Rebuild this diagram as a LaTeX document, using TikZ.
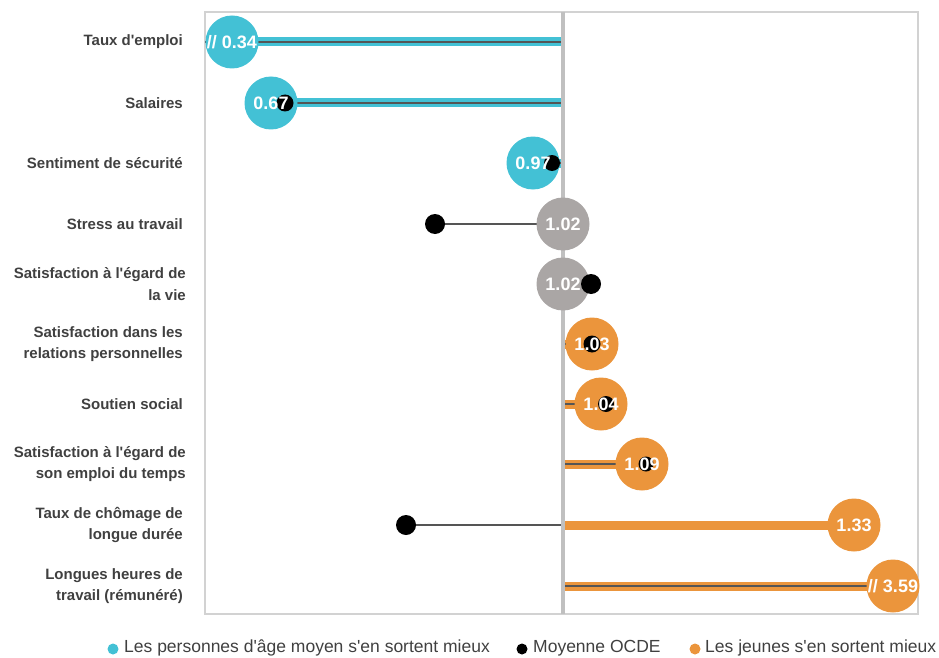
\documentclass[tikz,border=0pt]{standalone}
\usepackage{fontspec}
\newfontfamily\arialfont{Liberation Sans}
\definecolor{ciano}{RGB}{67,193,213}
\definecolor{arancio}{RGB}{235,149,60}
\definecolor{grigiob}{RGB}{170,166,165}
\definecolor{scuro}{RGB}{85,85,85}
\definecolor{asse}{RGB}{192,192,192}
\definecolor{cornice}{RGB}{210,210,210}
\definecolor{testo}{RGB}{64,64,64}
\begin{document}
\begin{tikzpicture}[x=1pt,y=-1pt,
    bolla/.style={circle,fill=#1,minimum size=53pt,inner sep=0pt},
    punto/.style={circle,fill=black,minimum size=#1,inner sep=0pt},
    valore/.style={text=white,font=\arialfont\fontsize{18}{18}\selectfont\bfseries,inner sep=0pt},
    barra/.style={#1,line width=9pt},
    linea/.style={scuro,line width=1.8pt},
    etichetta/.style={anchor=east,align=right,text=testo,inner sep=0pt,
        font=\arialfont\fontsize{15}{21.5}\selectfont\bfseries},
    legenda/.style={anchor=west,text=testo,inner sep=0pt,
        font=\arialfont\fontsize{17.5}{20}\selectfont}]
        \useasboundingbox (0,0) rectangle (939,658);
        %cornice
        \draw[cornice,line width=2pt] (205,12) rectangle (918,614);
        %punti sull'asse, bolle e medie OCDE
        \coordinate (a1) at (563,42);   \coordinate (b1) at (232,42);  \coordinate (f1) at (205,42);
        \coordinate (a2) at (563,103);  \coordinate (b2) at (271,103); \coordinate (m2) at (285,103);
        \coordinate (a3) at (563,163);  \coordinate (b3) at (533,163); \coordinate (m3) at (552,163);
        \coordinate (a4) at (563,224);  \coordinate (b4) at (563,224); \coordinate (m4) at (435,224);
        \coordinate (a5) at (563,284);  \coordinate (b5) at (563,284); \coordinate (m5) at (591,284);
        \coordinate (a6) at (563,344);  \coordinate (b6) at (592,344); \coordinate (m6) at (592,344);
        \coordinate (a7) at (563,404);  \coordinate (b7) at (601,404); \coordinate (m7) at (606,404);
        \coordinate (a8) at (563,464);  \coordinate (b8) at (642,464); \coordinate (m8) at (646,464);
        \coordinate (a9) at (563,525);  \coordinate (b9) at (854,525); \coordinate (m9) at (406,525);
        \coordinate (a10) at (563,586); \coordinate (b10) at (893,586);
        %barre colorate
        \draw[barra=ciano] (b1) -- (a1);
        \draw[barra=ciano] (b2) -- (a2);
        \draw[barra=ciano] (b3) -- (a3);
        \draw[barra=arancio] (a6) -- (b6);
        \draw[barra=arancio] (a7) -- (b7);
        \draw[barra=arancio] (a8) -- (b8);
        \draw[barra=arancio] (a9) -- (b9);
        \draw[barra=arancio] (a10) -- (b10);
        %linee verso la media
        \draw[linea] (f1) -- (a1);
        \draw[linea] (m2) -- (a2);
        \draw[linea] (m3) -- (a3);
        \draw[linea] (m4) -- (a4);
        \draw[linea] (a6) -- (m6);
        \draw[linea] (a7) -- (m7);
        \draw[linea] (a8) -- (m8);
        \draw[linea] (m9) -- (a9);
        \draw[linea] (a10) -- (b10);
        %asse centrale
        \draw[asse,line width=4pt] (563,12) -- (563,614);
        %bolle
        \node[bolla=ciano] (v1) at (b1) {};
        \node[bolla=ciano] (v2) at (b2) {};
        \node[bolla=ciano] (v3) at (b3) {};
        \node[bolla=grigiob] (v4) at (b4) {};
        \node[bolla=grigiob] (v5) at (b5) {};
        \node[bolla=arancio] (v6) at (b6) {};
        \node[bolla=arancio] (v7) at (b7) {};
        \node[bolla=arancio] (v8) at (b8) {};
        \node[bolla=arancio] (v9) at (b9) {};
        \node[bolla=arancio] (v10) at (b10) {};
        %medie OCDE
        \node[punto=17pt] (p2) at (m2) {};
        \node[punto=16pt] (p3) at (m3) {};
        \node[punto=20pt] (p4) at (m4) {};
        \node[punto=20pt] (p5) at (m5) {};
        \node[punto=17pt] (p6) at (m6) {};
        \node[punto=16pt] (p7) at (m7) {};
        \node[punto=15pt] (p8) at (m8) {};
        \node[punto=20pt] (p9) at (m9) {};
        %valori
        \node[valore] (t1) at (b1) {// 0.34};
        \node[valore] (t2) at (b2) {0.67};
        \node[valore] (t3) at (b3) {0.97};
        \node[valore] (t4) at (b4) {1.02};
        \node[valore] (t5) at (b5) {1.02};
        \node[valore] (t6) at (b6) {1.03};
        \node[valore] (t7) at (b7) {1.04};
        \node[valore] (t8) at (b8) {1.09};
        \node[valore] (t9) at (b9) {1.33};
        \node[valore] (t10) at (b10) {// 3.59};
        %etichette
        \node[etichetta] (e1) at (183,42) {Taux d'emploi};
        \node[etichetta] (e2) at (183,103) {Salaires};
        \node[etichetta] (e3) at (183,163) {Sentiment de sécurité};
        \node[etichetta] (e4) at (183,224) {Stress au travail};
        \node[etichetta] (e5) at (186,284) {Satisfaction à l'égard de\\la vie};
        \node[etichetta] (e6) at (183,344) {Satisfaction dans les\\relations personnelles};
        \node[etichetta] (e7) at (183,404) {Soutien social};
        \node[etichetta] (e8) at (186,464) {Satisfaction à l'égard de\\son emploi du temps};
        \node[etichetta] (e9) at (183,525) {Taux de chômage de\\longue durée};
        \node[etichetta] (e10) at (183,586) {Longues heures de\\travail (rémunéré)};
        %legenda
        \node[circle,fill=ciano,minimum size=11pt,inner sep=0pt] (l1) at (113,649) {};
        \node[legenda] (lt1) at (124,648) {Les personnes d'âge moyen s'en sortent mieux};
        \node[circle,fill=black,minimum size=11pt,inner sep=0pt] (l2) at (522,649) {};
        \node[legenda] (lt2) at (533,648) {Moyenne OCDE};
        \node[circle,fill=arancio,minimum size=11pt,inner sep=0pt] (l3) at (695,649) {};
        \node[legenda] (lt3) at (705,648) {Les jeunes s'en sortent mieux};
\end{tikzpicture}
\end{document}
